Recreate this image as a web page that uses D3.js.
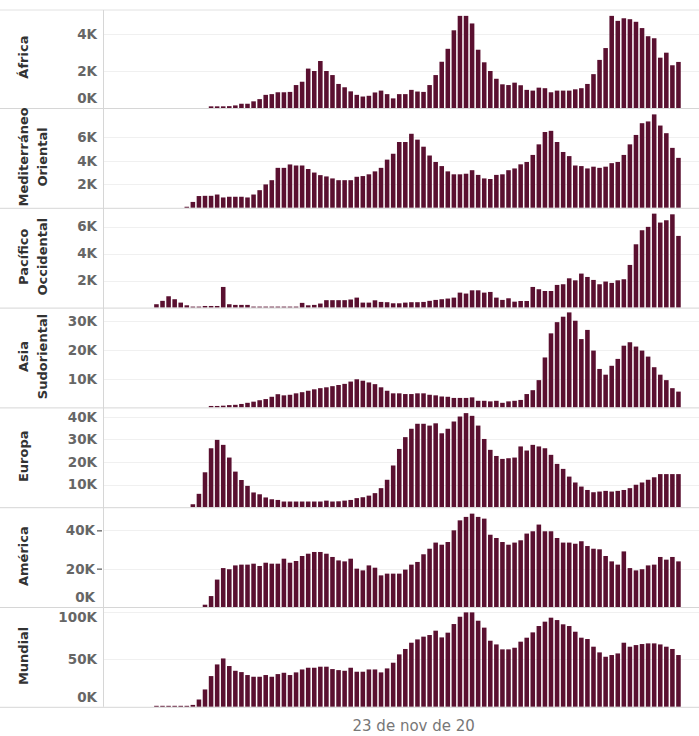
<!DOCTYPE html>
<html>
<head>
<meta charset="utf-8">
<script src="https://cdn.jsdelivr.net/npm/d3@7"></script>
<style>
  html, body { margin: 0; padding: 0; background: #ffffff; }
  svg { display: block; }
</style>
</head>
<body>
<div id="chart"></div>
<script>
// ---------- DATA (weekly deaths, thousands; week index 0 = 2020-01-06) ----------
const weekStart = "2020-01-06";
const weekCount = 90;

const regions = [["África"], ["Mediterráneo", "Oriental"], ["Pacífico", "Occidental"],
                 ["Asia", "Sudoriental"], ["Europa"], ["América"], ["Mundial"]];

const africa = [0,0,0,0,0,0,0,0,0,0,0,0,
  0.09,0.09,0.09,0.1,0.14,0.23,0.23,0.36,0.48,0.71,0.75,0.85,0.85,0.87,1.24,1.42,2.13,2.0,2.54,2.0,1.78,1.3,1.12,
  0.9,0.71,0.62,0.66,0.84,0.94,0.75,0.52,0.75,0.75,0.98,0.89,0.87,1.24,1.78,2.5,3.2,4.2,4.98,4.98,
  4.57,3.15,2.47,2.0,1.58,1.28,1.24,1.37,1.23,0.98,0.94,1.1,1.07,0.85,0.94,0.94,0.94,1.01,1.07,1.3,
  1.83,2.6,3.24,4.98,4.71,4.85,4.8,4.66,4.32,3.88,3.77,2.72,2.99,2.31,2.49];

const mediterraneo = [0,0,0,0,0,0,0,0,
  0.09,0.5,1.0,1.02,1.02,1.13,0.88,0.94,0.94,0.94,0.88,1.13,1.5,1.99,2.35,3.4,3.4,3.69,3.6,3.6,3.3,3.0,2.78,2.67,2.5,2.35,2.35,
  2.35,2.64,2.7,2.85,3.1,3.4,4.1,4.6,5.6,5.6,6.3,5.8,5.2,4.45,3.9,3.55,3.1,2.85,2.85,2.9,3.2,2.8,2.5,2.45,
  2.8,2.85,3.2,3.35,3.7,3.9,4.5,5.4,6.45,6.55,5.6,4.75,4.4,3.6,3.55,3.35,3.5,3.4,3.5,3.8,3.9,4.5,5.4,6.2,
  7.2,7.35,7.95,7.0,6.35,5.1,4.25];

const pacifico = [0,0,0,
  0.25,0.5,0.84,0.62,0.37,0.17,0.05,0.07,0.12,0.12,0.12,1.53,0.25,0.2,0.2,0.2,0.05,0.05,0.02,0.02,0.05,0.05,0.02,0.02,
  0.35,0.17,0.2,0.3,0.55,0.55,0.55,0.55,
  0.6,0.74,0.37,0.37,0.54,0.42,0.4,0.32,0.32,0.37,0.4,0.4,0.42,0.5,0.57,0.62,0.67,0.74,1.11,1.04,1.28,1.28,1.11,1.16,
  0.74,0.57,0.69,0.44,0.49,0.49,1.53,1.36,1.23,1.23,1.68,1.73,2.17,2.02,2.52,2.27,2.05,1.73,1.93,1.83,2.02,2.1,
  3.16,4.69,5.73,5.98,6.96,6.3,6.47,6.91,5.31];

const asia = [0,0,0,0,0,0,0,0,0,0,0,0,
  0.5,0.5,0.6,0.8,0.9,1.2,1.6,2.0,2.5,2.9,3.7,4.6,4.2,4.4,4.9,5.3,5.8,6.3,6.7,7.0,7.4,7.8,8.2,
  9.0,9.8,9.3,8.7,8.1,7.0,5.8,4.9,4.9,4.65,4.65,4.9,4.9,4.4,4.2,3.8,3.7,3.3,3.3,3.3,3.5,2.3,2.3,2.1,2.3,
  1.6,2.1,2.3,2.6,4.65,6.0,9.5,17.4,25.8,29.7,31.6,33.1,30.2,23.8,27.0,19.8,13.4,11.4,14.5,16.9,21.5,22.7,
  21.2,19.8,17.7,14.0,11.4,9.5,6.7,5.5];

const europa = [0,0,0,0,0,0,0,0,0,
  1.3,5.9,15.4,26,29.7,27.5,21.9,15.7,12,9.4,6.5,5.7,4.3,3.5,3.2,2.5,2.5,2.5,2.5,2.5,2.5,2.5,2.9,2.5,2.6,2.9,
  3.2,4.0,4.4,5.1,6.2,8.4,12.1,18.4,25.7,30.9,34.6,36.8,36.8,36,37,32.6,34.6,37.8,40,41.5,40.3,36,30.1,25.3,
  22.6,21.3,21.6,21.9,26.8,25,27.5,26.8,26,23.1,19.1,16.9,13.5,10.9,9.1,7.6,6.6,6.9,7.2,6.9,7.2,7.6,8.4,9.9,
  10.9,12.1,13.2,14.6,14.6,14.6,14.6];

const america = [0,0,0,0,0,0,0,0,0,0,0,
  1.2,5.7,14.3,20.3,19.7,21.7,22.1,22.1,22.6,21.4,23.1,22.6,22.6,25.2,23.1,24,26.6,27.8,28.7,28.7,27.8,26.1,24.3,23.8,
  25.2,20,19.1,21.7,20.5,16.5,17.4,17.4,17.4,19.5,22.1,23.5,27.5,30.4,33.6,32.5,33.9,40,45.2,47,48.7,47,46.1,
  37.7,36,33.9,32.5,33.6,34.8,38.3,39.5,43,39.5,39.5,36,33.6,33.6,33,34.3,31.8,30.4,30.1,26.6,23.8,22.1,29,
  20.3,19.1,19.7,21.7,22.1,26.1,24.7,26.1,23.8];

const mundial = [0,0,0,
  0.3,0.5,0.85,0.65,0.45,0.6,2.0,7.7,18.3,32.4,44.7,51,43,38,36.6,33.5,31.7,31.7,33.5,31.7,34.5,35.9,33.5,36.3,
  39.4,41.2,41.2,42.3,42.3,39.8,38.7,38,41.2,37,37,39.4,39.4,36.3,40.5,46.5,55.3,61,67.6,71.1,74,75.7,80.3,
  73.2,78.2,87.3,95,99.6,99.6,90.8,83.5,69.7,65.8,60.6,60.6,62.3,68.7,72.9,78.5,85.2,89.8,94,91.5,87,85.2,
  79.2,72.9,71.5,63.4,57.4,52.8,54.6,56.3,67.6,63.4,65.1,66.2,66.9,66.9,65.8,63.4,61,54.6];

const series = [africa, mediterraneo, pacifico, asia, europa, america, mundial];

// tick labels per panel (thousands)
const ticksAfrica = [0, 2, 4];
const ticksMediterraneo = [2, 4, 6];
const ticksPacifico = [2, 4, 6];
const ticksAsia = [10, 20, 30];
const ticksEuropa = [10, 20, 30, 40];
const ticksAmerica = [0, 20, 40];
const ticksMundial = [0, 50, 100];
const panelTicks = [ticksAfrica, ticksMediterraneo, ticksPacifico, ticksAsia, ticksEuropa, ticksAmerica, ticksMundial];

// x-axis label shown
const xLabelWeeks = ["2020-11-23"];

// ---------- LAYOUT ----------
const W = 699, H = 736;
const axisX = 103;
const firstBase = 108, panelH = 99.8, topLine = 10;
const pxPerK = [18.5, 11.75, 13.5, 2.87, 2.267, 1.917, 0.948];
const barColor = "#5a1030";

const parse = d3.utcParse("%Y-%m-%d");
const start = parse(weekStart);
const weeks = d3.range(weekCount).map(i => d3.utcDay.offset(start, 7 * i));

const es = d3.timeFormatLocale({
  dateTime: "%A, %e de %B de %Y, %X", date: "%d/%m/%Y", time: "%H:%M:%S",
  periods: ["AM", "PM"],
  days: ["domingo","lunes","martes","miércoles","jueves","viernes","sábado"],
  shortDays: ["dom","lun","mar","mié","jue","vie","sáb"],
  months: ["enero","febrero","marzo","abril","mayo","junio","julio","agosto","septiembre","octubre","noviembre","diciembre"],
  shortMonths: ["ene","feb","mar","abr","may","jun","jul","ago","sept","oct","nov","dic"]
});
const fmtWeek = es.utcFormat("%-d de %b de %y");

const x = d3.scaleBand()
  .domain(weeks.map(d => +d))
  .range([135.2, 681.5])
  .paddingInner(0.25)
  .paddingOuter(0.125);

const svg = d3.select("#chart").append("svg")
  .attr("width", W).attr("height", H)
  .style("font-family", "'DejaVu Sans', sans-serif");

svg.append("rect").attr("width", W).attr("height", H).attr("fill", "#fff");

// top border
svg.append("line").attr("x1", 0).attr("x2", W).attr("y1", topLine).attr("y2", topLine)
  .attr("stroke", "#e2e2e2").attr("stroke-width", 1);

series.forEach((vals, p) => {
  const base = firstBase + panelH * p;
  const top = base - panelH;
  const y = d3.scaleLinear().domain([0, panelH / pxPerK[p]]).range([base, top]);
  const g = svg.append("g");

  // gridlines
  g.selectAll("line.grid").data(panelTicks[p].filter(t => t > 0)).join("line")
    .attr("x1", axisX).attr("x2", W)
    .attr("y1", d => Math.round(y(d)) + 0.5).attr("y2", d => Math.round(y(d)) + 0.5)
    .attr("stroke", "#f0f0f0").attr("stroke-width", 1);

  // bars
  g.selectAll("rect.bar").data(vals.map((v, i) => ({ w: weeks[i], v })).filter(d => d.v > 0)).join("rect")
    .attr("x", d => x(+d.w))
    .attr("width", x.bandwidth())
    .attr("y", d => Math.min(y(d.v), base - 1))
    .attr("height", d => Math.max(1, base - y(d.v)))
    .attr("fill", barColor);

  // separator / baseline
  g.append("line").attr("x1", 0).attr("x2", W).attr("y1", base + 0.5).attr("y2", base + 0.5)
    .attr("stroke", "#d6d6d6").attr("stroke-width", 1);

  // tick labels (kept inside the panel)
  g.selectAll("text.tick").data(panelTicks[p]).join("text")
    .attr("x", p === 5 ? 95 : 97)
    .attr("y", d => Math.min(base - 10, Math.max(top + 10, y(d))))
    .attr("dy", "0.36em")
    .attr("text-anchor", "end")
    .attr("font-size", 13.5)
    .attr("font-weight", "bold")
    .attr("fill", "#666")
    .text(d => d + "K");

  if (p === 5) {
    g.selectAll("line.tk").data(panelTicks[p].filter(t => t > 0)).join("line")
      .attr("x1", 97).attr("x2", 102)
      .attr("y1", d => y(d) + 0.5).attr("y2", d => y(d) + 0.5)
      .attr("stroke", "#777").attr("stroke-width", 1.5);
  }

  // row header
  const lines = regions[p];
  const cy = base - panelH / 2 - 1;
  const cxs = lines.length === 1 ? [23] : [23, 42];
  lines.forEach((t, li) => {
    svg.append("text")
      .attr("transform", `translate(${cxs[li]},${cy}) rotate(-90)`)
      .attr("text-anchor", "middle")
      .attr("dy", "0.36em")
      .attr("font-size", 13)
      .attr("font-weight", "bold")
      .attr("fill", "#333")
      .text(t);
  });
});

// y axis line
svg.append("line").attr("x1", axisX + 0.5).attr("x2", axisX + 0.5)
  .attr("y1", topLine).attr("y2", firstBase + panelH * 6)
  .attr("stroke", "#d6d6d6").attr("stroke-width", 1);

// x label
xLabelWeeks.forEach(s => {
  const d = parse(s);
  svg.append("text")
    .attr("x", x(+d) - 1.5)
    .attr("y", 731)
    .attr("text-anchor", "middle")
    .attr("font-size", 15)
    .attr("fill", "#777")
    .text(fmtWeek(d));
});
</script>
</body>
</html>
